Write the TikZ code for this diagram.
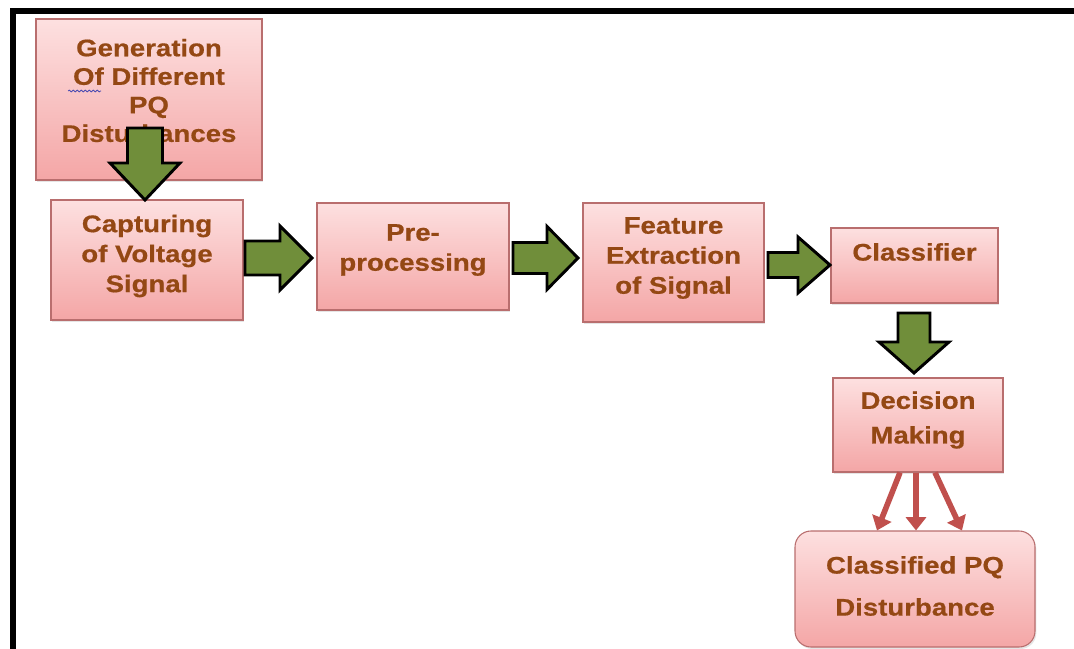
\documentclass[tikz,border=0pt]{standalone}
\usepackage{fontspec}
\setmainfont{Liberation Sans}[FakeStretch=1.15, BoldFeatures={FakeBold=0.6}]
\usetikzlibrary{calc,arrows.meta,shadows,decorations.pathmorphing}
\definecolor{txtbrown}{RGB}{148,72,20}
\definecolor{boxtop}{RGB}{253,224,224}
\definecolor{boxbot}{RGB}{244,166,166}
\definecolor{boxline}{RGB}{185,110,110}
\definecolor{agreen}{RGB}{112,142,58}
\definecolor{ared}{RGB}{192,80,77}
% start, angle, length, shaft half width, head half width, head length (px)
\newcommand{\greenarrow}[6]{%
  \draw[garrowstyle, shift={(#1)}, rotate=#2]
    (0,#4) -- ({#3-#6},#4) -- ({#3-#6},#5) -- (#3,0) -- ({#3-#6},-#5)
    -- ({#3-#6},-#4) -- (0,-#4) -- cycle;}
\tikzset{
  box/.style={draw=boxline, line width=0.8pt, top color=boxtop, bottom color=boxbot,
    drop shadow={opacity=0.2, shadow xshift=1pt, shadow yshift=-1.5pt}},
  txt/.style={text=txtbrown, align=center, inner sep=0pt},
  garrowstyle/.style={fill=agreen, draw=black, line width=2.2pt, line join=miter},
  rarrow/.style={draw=ared, line width=4.2pt, -{Triangle[width=15pt,length=10pt]}},
}
\begin{document}
\begin{tikzpicture}[x=0.75pt,y=-0.75pt]
\useasboundingbox (0,0) rectangle (1074,649);
\fill[white] (0,0) rectangle (1074,649);
\draw[line width=3.9pt, line join=miter] (13,652) -- (13,11) -- (1076,11);

% boxes
\node[box, minimum width=169.5pt, minimum height=120.75pt] (gen) at (149,99.5) {};
\node[box, minimum width=144pt, minimum height=90pt] (cap) at (147,260) {};
\node[box, minimum width=144pt, minimum height=80.25pt] (pre) at (413,256.5) {};
\node[box, minimum width=135.75pt, minimum height=89.25pt] (feat) at (673.5,262.5) {};
\node[box, minimum width=125.25pt, minimum height=56.25pt] (cls) at (914.5,265.5) {};
\node[box, minimum width=127.5pt, minimum height=70.5pt] (dec) at (918,425) {};
\node[box, rounded corners=12pt, minimum width=180pt, minimum height=87pt] (cpq) at (915,589) {};

% texts
\node[txt, font=\bfseries\fontsize{18}{21.4}\selectfont] (gent) at (149,90.5) {Generation\\Of Different\\PQ\\Disturbances};
\draw[gray!60!blue, line width=0.6pt, decorate, decoration={snake, amplitude=0.7pt, segment length=3pt}] (68,91) -- (101,91);
\node[txt, font=\bfseries\fontsize{18}{22.5}\selectfont] (capt) at (147,256) {Capturing\\of Voltage\\Signal};
\node[txt, font=\bfseries\fontsize{18}{22.5}\selectfont] (pret) at (413,250) {Pre-\\processing};
\node[txt, font=\bfseries\fontsize{18}{22.5}\selectfont] (featt) at (673.5,258) {Feature\\Extraction\\of Signal};
\node[txt, font=\bfseries\fontsize{18}{22.5}\selectfont] (clst) at (914.5,252) {Classifier};
\node[txt, font=\bfseries\fontsize{18}{26}\selectfont] (dect) at (918,420) {Decision\\Making};
\node[txt, font=\bfseries\fontsize{18}{31.5}\selectfont] (cpqt) at (915,586) {Classified PQ\\Disturbance};

% green block arrows
\coordinate (a1) at (145,128);
\coordinate (a2) at (245,258);
\coordinate (a3) at (513,258);
\coordinate (a4) at (768,265);
\coordinate (a5) at (914,313);
\greenarrow{a1}{-90}{72}{17.5}{35}{37}
\greenarrow{a2}{0}{67}{17}{32}{32}
\greenarrow{a3}{0}{65}{15.5}{31.5}{31}
\greenarrow{a4}{0}{62}{12.5}{28}{32}
\greenarrow{a5}{-90}{60}{16}{35}{31}

% red arrows
\draw[rarrow] (dec.south -| 900,0) -- (cpq.north -| 877,0);
\draw[rarrow] (dec.south -| 916,0) -- (cpq.north -| 916,0);
\draw[rarrow] (dec.south -| 935,0) -- (cpq.north -| 962,0);
\end{tikzpicture}
\end{document}
